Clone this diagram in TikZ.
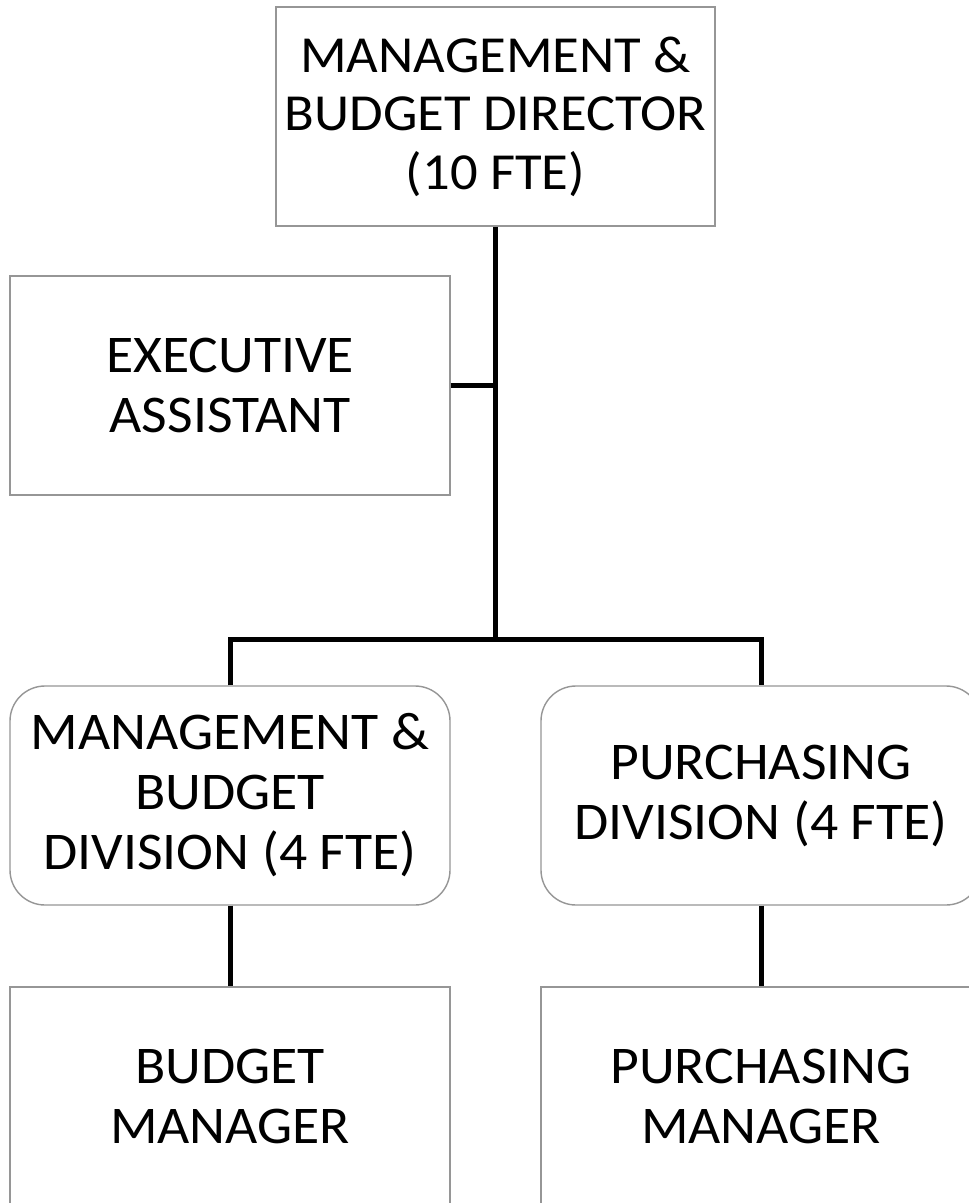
\documentclass[tikz,border=0pt]{standalone}
\usepackage{fontspec}
\setmainfont[FakeStretch=1.05]{Carlito}
\definecolor{boxgray}{RGB}{150,150,150}
\begin{document}
\begin{tikzpicture}[x=1pt,y=-1pt,
  unit/.style={draw=boxgray, line width=1.4pt, fill=white,
    minimum width=440pt, minimum height=219pt, inner sep=0pt,
    align=center, font=\fontsize{53}{60}\selectfont},
  division/.style={unit, rounded corners=35pt},
  conn/.style={draw=black, line width=5pt}]
  \useasboundingbox (0,0) rectangle (969,1203);
  \clip (0,0) rectangle (969,1203);
  \fill[white] (0,0) rectangle (969,1203);

  % director and staff
  \node[unit, minimum width=439pt, font=\fontsize{52}{58.5}\selectfont] (dir) at (495.5,116.5)
    {MANAGEMENT \&\\BUDGET DIRECTOR\\(10 FTE)};
  \node[unit] (exec) at (230,385.5) {EXECUTIVE\\ASSISTANT};

  % divisions
  \node[division] (mbd) at (230,795.5) {MANAGEMENT \&\\BUDGET\\DIVISION (4 FTE)};
  \node[division] (pd) at (761,795.5) {PURCHASING\\DIVISION (4 FTE)};

  % managers
  \node[unit] (bm) at (230,1096.5) {BUDGET\\MANAGER};
  \node[unit] (pm) at (761,1096.5) {PURCHASING\\MANAGER};

  % reporting lines
  \coordinate (hub) at (495.5,639);
  \draw[conn] (dir.south) -- (hub);
  \draw[conn] (exec.east) -- (exec.east -| dir.south);
  \draw[conn] (mbd.north) |- (hub) -| (pd.north);
  \draw[conn] (mbd.south) -- (bm.north);
  \draw[conn] (pd.south) -- (pm.north);
\end{tikzpicture}
\end{document}
